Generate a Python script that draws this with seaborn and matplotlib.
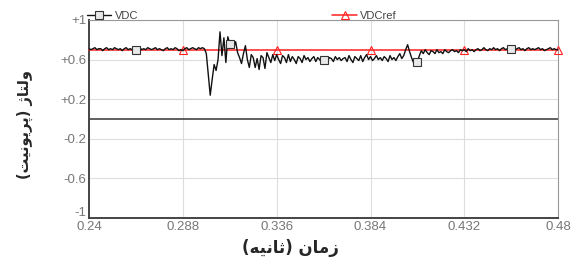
import matplotlib
matplotlib.use("Agg")
import matplotlib.pyplot as plt
from matplotlib.lines import Line2D
from matplotlib.transforms import ScaledTranslation
import numpy as np
import pandas as pd
import seaborn as sns

# time grid (s) and measured DC voltage (pu)
t_start = 0.24
t_step = 0.001
vdc = [
    0.71, 0.70, 0.71, 0.72, 0.70, 0.71, 0.71, 0.69, 0.71, 0.72, 0.70, 0.71,
    0.70, 0.72, 0.71, 0.70, 0.71, 0.69, 0.71, 0.72, 0.70, 0.71, 0.70, 0.69,
    0.70, 0.71, 0.72, 0.70, 0.71, 0.70, 0.72, 0.71, 0.70, 0.71, 0.72, 0.70,
    0.71, 0.70, 0.69, 0.71, 0.72, 0.70, 0.71, 0.70, 0.72, 0.71, 0.69, 0.70,
    0.69, 0.71, 0.72, 0.70, 0.71, 0.72, 0.71, 0.70, 0.72, 0.71, 0.72, 0.71,
    0.66, 0.45, 0.24, 0.40, 0.55, 0.49, 0.60, 0.88, 0.64, 0.82, 0.57, 0.83,
    0.76, 0.77, 0.72, 0.78, 0.67, 0.62, 0.56, 0.66, 0.74, 0.60, 0.52, 0.65,
    0.62, 0.52, 0.61, 0.50, 0.64, 0.62, 0.51, 0.67, 0.62, 0.57, 0.65, 0.59,
    0.65, 0.60, 0.56, 0.64, 0.62, 0.57, 0.65, 0.58, 0.63, 0.60, 0.56, 0.63,
    0.61, 0.57, 0.64, 0.60, 0.62, 0.58, 0.61, 0.63, 0.58, 0.62, 0.60, 0.57,
    0.60, 0.63, 0.59, 0.62, 0.61, 0.58, 0.63, 0.60, 0.62, 0.59, 0.61, 0.62,
    0.58, 0.64, 0.60, 0.57, 0.63, 0.61, 0.59, 0.64, 0.58, 0.62, 0.65, 0.60,
    0.63, 0.59, 0.61, 0.64, 0.60, 0.62, 0.59, 0.63, 0.61, 0.58, 0.64, 0.60,
    0.62, 0.59, 0.63, 0.66, 0.61, 0.64, 0.70, 0.75, 0.68, 0.62, 0.57, 0.55,
    0.58, 0.64, 0.69, 0.66, 0.70, 0.67, 0.65, 0.69, 0.68, 0.66, 0.70, 0.67,
    0.68, 0.66, 0.70, 0.68, 0.67, 0.69, 0.70, 0.68, 0.69, 0.67, 0.70, 0.69,
    0.70, 0.68, 0.71, 0.69, 0.70, 0.68, 0.70, 0.71, 0.69, 0.70, 0.72, 0.70,
    0.69, 0.71, 0.70, 0.72, 0.70, 0.71, 0.69, 0.71, 0.72, 0.70, 0.71, 0.72,
    0.71, 0.72, 0.70, 0.71, 0.72, 0.70, 0.71, 0.69, 0.71, 0.72, 0.70, 0.71,
    0.70, 0.71, 0.72, 0.70, 0.71, 0.69, 0.70, 0.71, 0.72, 0.70, 0.71, 0.70,
    0.70,
]
time = np.round(t_start + t_step * np.arange(len(vdc)), 3)

ref_time = [0.24, 0.288, 0.336, 0.384, 0.432, 0.48]
vdc_ref = [0.7, 0.7, 0.7, 0.7, 0.7, 0.7]

x_ticks = [0.24, 0.288, 0.336, 0.384, 0.432, 0.48]
x_ticklabels = ["0.24", "0.288", "0.336", "0.384", "0.432", "0.48"]
y_ticks = [1, 0.6, 0.2, -0.2, -0.6, -1]
y_ticklabels = ["+1", "+0.6", "+0.2", "-0.2", "-0.6", "-1"]

# Persian labels, pre-shaped (presentation forms, visual order)
xlabel_fa = "(\uFEEA\uFBFF\uFEE7\uFE8E\uFE9B) \uFEE5\uFE8E\uFEE3\uFEAF"
ylabel_fa = "(\uFE96\uFBFF\uFEE7\uFEEE\uFBFE\uFEAE\uFB58) \uFB8A\uFE8E\uFE98\uFEDF\uFEED"

df = pd.DataFrame({"time": time, "vdc": vdc})
df_ref = pd.DataFrame({"time": ref_time, "vdc": vdc_ref})

sns.set_style("white")
plt.rcParams["font.family"] = ["Liberation Sans", "DejaVu Sans"]

fig, ax = plt.subplots(figsize=(5.82, 2.59), dpi=100)
fig.subplots_adjust(left=0.153, right=0.959, top=0.923, bottom=0.158)

red = "#ff2020"
blk = "#111111"

sns.lineplot(data=df_ref, x="time", y="vdc", ax=ax, color=red, lw=1.1,
             marker="^", markersize=6, markerfacecolor="none",
             markeredgecolor=red, markeredgewidth=0.8,
             markevery=slice(1, None), legend=False,
             zorder=3, clip_on=False)
sns.lineplot(data=df, x="time", y="vdc", ax=ax, color=blk, lw=1.0,
             marker="s", markersize=6, markerfacecolor="#e8e8e8",
             markeredgecolor="#333333", markeredgewidth=0.8,
             markevery=slice(24, None, 48), legend=False,
             zorder=4)

ax.axhline(0, color="#444444", lw=1.2, zorder=2)

ax.set_xlim(0.24, 0.48)
ax.set_ylim(-1, 1)
ax.set_xticks(x_ticks)
ax.set_xticklabels(x_ticklabels)
ax.set_yticks(y_ticks)
ax.set_yticklabels(y_ticklabels)
ax.tick_params(axis="both", labelsize=9.5, labelcolor="#777777", length=3,
               direction="in", color="#444444", pad=2)
ax.grid(True, color="#dddddd", lw=0.8)

# the "-1" label sits a little higher, as in the original
lab = ax.get_yticklabels()[-1]
lab.set_transform(lab.get_transform() + ScaledTranslation(0, 5 / 72, fig.dpi_scale_trans))

for side in ["top", "right"]:
    ax.spines[side].set_color("#999999")
    ax.spines[side].set_linewidth(0.8)
for side in ["left", "bottom"]:
    ax.spines[side].set_color("#444444")
    ax.spines[side].set_linewidth(1.4)

ax.set_xlabel(xlabel_fa, fontsize=12, fontweight="bold",
              family=["DejaVu Sans"], labelpad=1)
ax.xaxis.set_label_coords(0.43, -0.105)
ax.set_ylabel(ylabel_fa, fontsize=10.5, fontweight="bold",
              family=["DejaVu Sans"])
ax.yaxis.set_label_coords(-0.12, 0.47)

handles = [
    Line2D([], [], color=blk, lw=1.0, marker="s", markersize=6,
           markerfacecolor="#e8e8e8", markeredgecolor="#333333",
           markeredgewidth=0.8),
    Line2D([], [], color=red, lw=1.1, marker="^", markersize=6,
           markerfacecolor="none", markeredgecolor=red, markeredgewidth=0.8),
]
ax.legend(handles, ["VDC", "VDCref"],
          loc="lower left", bbox_to_anchor=(-0.005, 0.995), ncol=2,
          frameon=False, fontsize=8, handlelength=2.2, handletextpad=0.3,
          columnspacing=17.5, borderaxespad=0, borderpad=0,
          labelcolor="#444444")

fig.savefig("out.png", dpi=100)
